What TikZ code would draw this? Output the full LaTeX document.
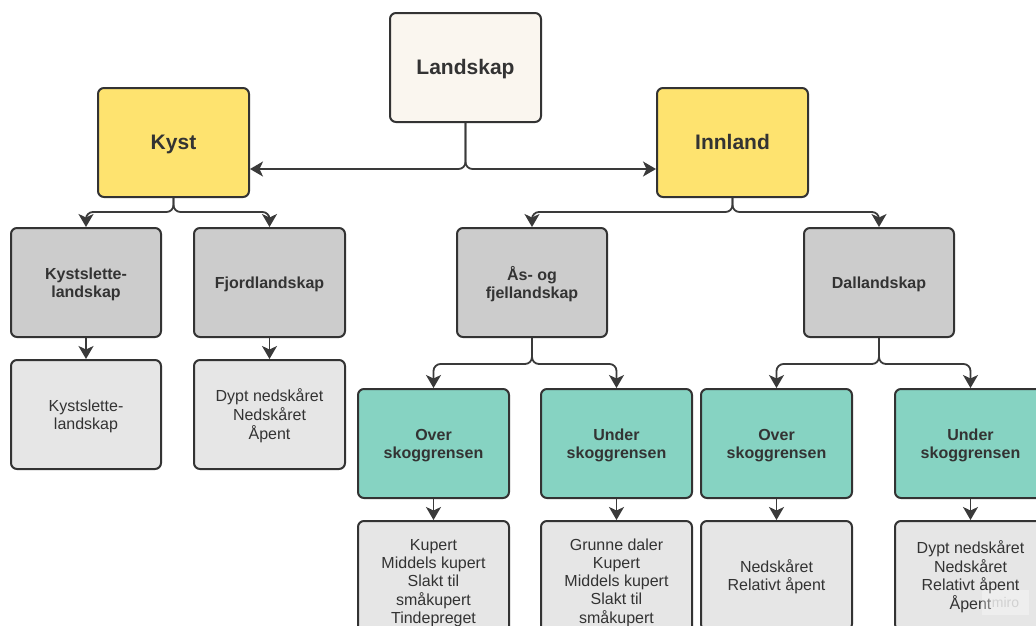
\documentclass[tikz,border=0pt]{standalone}
\usepackage{fontspec}
\setmainfont{Liberation Sans}
\usetikzlibrary{arrows.meta}
\definecolor{ink}{HTML}{333333}
\definecolor{edge}{HTML}{3A3A3A}
\definecolor{cream}{HTML}{FAF6EF}
\definecolor{sun}{HTML}{FEE36F}
\definecolor{midgray}{HTML}{CCCCCC}
\definecolor{lightgray}{HTML}{E6E6E6}
\definecolor{teal}{HTML}{86D3C2}
% centred lines, set a little lower than the geometric centre of the box
\newcommand\boxlines[1]{\raisebox{-2.5pt}[\height][\depth]{\begin{tabular}{@{}c@{}}#1\end{tabular}}}
\tikzset{
  box/.style={draw=ink, line width=2pt, rounded corners=6pt, minimum width=151pt,
    minimum height=109pt, inner sep=0pt, text=ink},
  rootbox/.style={box, fill=cream, font=\fontsize{21}{24}\selectfont\bfseries},
  regionbox/.style={box, fill=sun, font=\fontsize{21}{24}\selectfont\bfseries},
  typebox/.style={box, fill=midgray, font=\fontsize{16}{18}\selectfont\bfseries},
  zonebox/.style={box, fill=teal, font=\fontsize{16}{17.5}\selectfont\bfseries},
  listbox/.style={box, fill=lightgray, font=\fontsize{16}{18}\selectfont},
  conn/.style={draw=edge, line width=1.8pt, rounded corners=7pt,
    -{Stealth[length=13pt,width=15pt,inset=3.5pt]}},
}
\begin{document}
\begin{tikzpicture}[x=1pt,y=-1pt]
\useasboundingbox (0,0) rectangle (1036,625);
\clip (0,0) rectangle (1036,625);
\fill[white] (0,0) rectangle (1036,625);

% levels where connectors branch
\coordinate (y1) at (0,169);
\coordinate (y2) at (0,212);
\coordinate (y3) at (0,364);

% root and regions
\node[rootbox]   (land) at (465.5,67.5)  {\boxlines{Landskap}};
\node[regionbox] (kyst) at (173.5,142.5) {\boxlines{Kyst}};
\node[regionbox] (inn)  at (732.5,142.5) {\boxlines{Innland}};

% landscape types
\node[typebox, minimum width=150pt] (ks) at (86,282.5)    {\boxlines{Kystslette-\\landskap}};
\node[typebox] (fj)  at (269.5,282.5) {\boxlines{Fjordlandskap}};
\node[typebox, minimum width=150pt] (as) at (532,282.5)   {\boxlines{Ås- og\\fjellandskap}};
\node[typebox, minimum width=150pt] (dal) at (879,282.5)  {\boxlines{Dallandskap}};

% coastal subtypes
\node[listbox, minimum width=150pt] (ksl) at (86,414.5) {\boxlines{Kystslette-\\landskap}};
\node[listbox] (fjl) at (269.5,414.5) {\boxlines{Dypt nedskåret\\Nedskåret\\Åpent}};

% tree line zones
\node[zonebox] (ov1) at (433.5,443.5) {\boxlines{Over\\skoggrensen}};
\node[zonebox] (un1) at (616.5,443.5) {\boxlines{Under\\skoggrensen}};
\node[zonebox] (ov2) at (776.5,443.5) {\boxlines{Over\\skoggrensen}};
\node[zonebox] (un2) at (970.5,443.5) {\boxlines{Under\\skoggrensen}};

% terrain descriptions
\node[listbox, minimum height=120pt] (ov1l) at (433.5,581) {\boxlines{Kupert\\Middels kupert\\Slakt til\\småkupert\\Tindepreget}};
\node[listbox, minimum height=120pt] (un1l) at (616.5,581) {\boxlines{Grunne daler\\Kupert\\Middels kupert\\Slakt til\\småkupert}};
\node[listbox] (ov2l) at (776.5,575.5) {\boxlines{Nedskåret\\Relativt åpent}};
\node[listbox] (un2l) at (970.5,575.5) {\boxlines{Dypt nedskåret\\Nedskåret\\Relativt åpent\\Åpent}};

% connectors
\draw[conn] (land.south) |- (kyst.east |- y1);
\draw[conn] (land.south) |- (inn.west |- y1);

\draw[conn] (kyst.south) -- (kyst.south |- y2) -| (ks.north);
\draw[conn] (kyst.south) -- (kyst.south |- y2) -| (fj.north);
\draw[conn] (inn.south) -- (inn.south |- y2) -| (as.north);
\draw[conn] (inn.south) -- (inn.south |- y2) -| (dal.north);

\draw[conn] (ks.south) -- (ksl.north);
\draw[conn] (fj.south) -- (fjl.north);

\draw[conn] (as.south) -- (as.south |- y3) -| (ov1.north);
\draw[conn] (as.south) -- (as.south |- y3) -| (un1.north);
\draw[conn] (dal.south) -- (dal.south |- y3) -| (ov2.north);
\draw[conn] (dal.south) -- (dal.south |- y3) -| (un2.north);

\draw[conn] (ov1.south) -- (ov1l.north);
\draw[conn] (un1.south) -- (un1l.north);
\draw[conn] (ov2.south) -- (ov2l.north);
\draw[conn] (un2.south) -- (un2l.north);

% board mark
\node[fill=white, fill opacity=0.35, text opacity=1, text=black!18, inner sep=2pt,
  minimum width=47pt, minimum height=25pt, font=\fontsize{14}{16}\selectfont]
  (mark) at (1005.5,602.5) {miro};
\end{tikzpicture}
\end{document}
